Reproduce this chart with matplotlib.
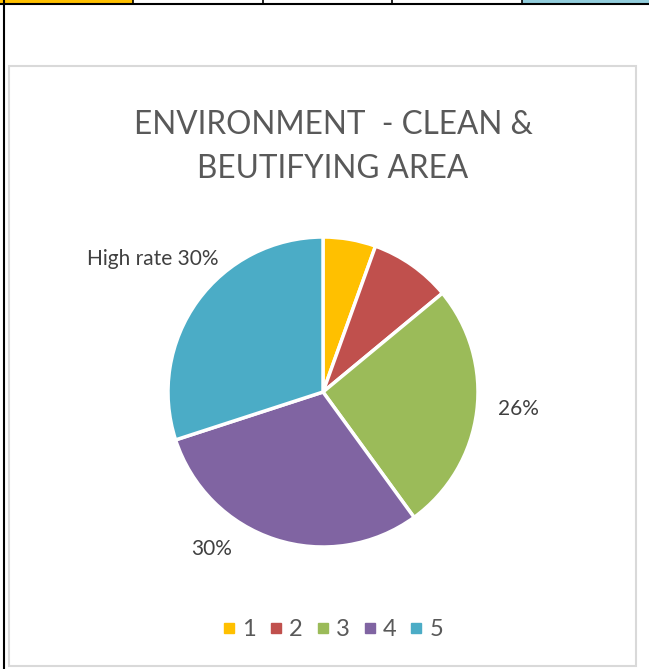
import matplotlib
matplotlib.use('Agg')
import matplotlib.pyplot as plt
from matplotlib.patches import Rectangle
from matplotlib.lines import Line2D

# data
categories = ['1', '2', '3', '4', '5']
shares = [5.5, 8.5, 26, 30, 30]
colors = ['#FFC000', '#C0504D', '#9BBB59', '#8064A2', '#4BACC6']
data_labels = ['', '', '26%', '30%', 'High rate 30%']
title = 'ENVIRONMENT  - CLEAN &\nBEUTIFYING AREA'

plt.rcParams['font.family'] = ['Lato', 'DejaVu Sans']
text_color = '#595959'

W, H = 649, 669
fig = plt.figure(figsize=(W / 100, H / 100), dpi=100)


def px(x0, y0, w, h):
    # pixel box (top-left origin) -> figure fraction
    return [x0 / W, 1 - (y0 + h) / H, w / W, h / H]


# spreadsheet bits around the chart
top_cells = [(0, 133, '#FFC000'), (133, 130, 'white'), (263, 129, 'white'),
             (392, 130, 'white'), (522, 127, '#92CDDC')]
for x0, w, c in top_cells:
    fig.patches.append(Rectangle((x0 / W, 1 - 3 / H), w / W, 3 / H, transform=fig.transFigure,
                                 facecolor=c, edgecolor='none', zorder=-2))
fig.lines.append(Line2D([0, 1], [1 - 3.5 / H] * 2, transform=fig.transFigure, color='black', lw=1.5))
for x0, w, c in top_cells[1:]:
    fig.lines.append(Line2D([x0 / W] * 2, [1 - 3.5 / H, 1], transform=fig.transFigure, color='black', lw=1.2))
fig.lines.append(Line2D([3.5 / W] * 2, [0, 1], transform=fig.transFigure, color='black', lw=1.5))

# chart area box
fig.patches.append(Rectangle((9 / W, 1 - 666 / H), 627 / W, 600 / H, transform=fig.transFigure,
                             facecolor='white', edgecolor='#D9D9D9', lw=1.5, zorder=-1))

fig.text(333 / W, 1 - 147 / H, title, ha='center', va='center', fontsize=22.7,
         color=text_color, linespacing=1.58)

# pie
r = 155
ax = fig.add_axes(px(323 - r, 392 - r, 2 * r, 2 * r))
ax.set_zorder(1)
wedges, _ = ax.pie(shares, colors=colors, startangle=90, counterclock=False, radius=1,
                   wedgeprops=dict(edgecolor='white', linewidth=2.5))
ax.set_xlim(-1, 1)
ax.set_ylim(-1, 1)
ax.axis('off')

# data labels (Excel best-fit positions, in axes units relative to the pie)
label_pos = {2: (1.26, -0.11, 'center'), 3: (-0.72, -1.01, 'center'), 4: (-1.098, 0.86, 'center')}
for i, (lx, ly, ha) in label_pos.items():
    ax.text(lx, ly, data_labels[i], ha=ha, va='center', fontsize=15, color='#404040', clip_on=False)

handles = [Line2D([], [], marker='s', linestyle='none', markersize=6.5, markerfacecolor=c,
                  markeredgecolor=c) for c in colors]
fig.legend(handles, categories, loc='center', bbox_to_anchor=(332 / W, 1 - 630 / H), ncol=5,
           frameon=False, fontsize=17, labelcolor=text_color, handletextpad=0.2,
           columnspacing=0.5, handlelength=0.7)

fig.savefig('out.png', dpi=100)
